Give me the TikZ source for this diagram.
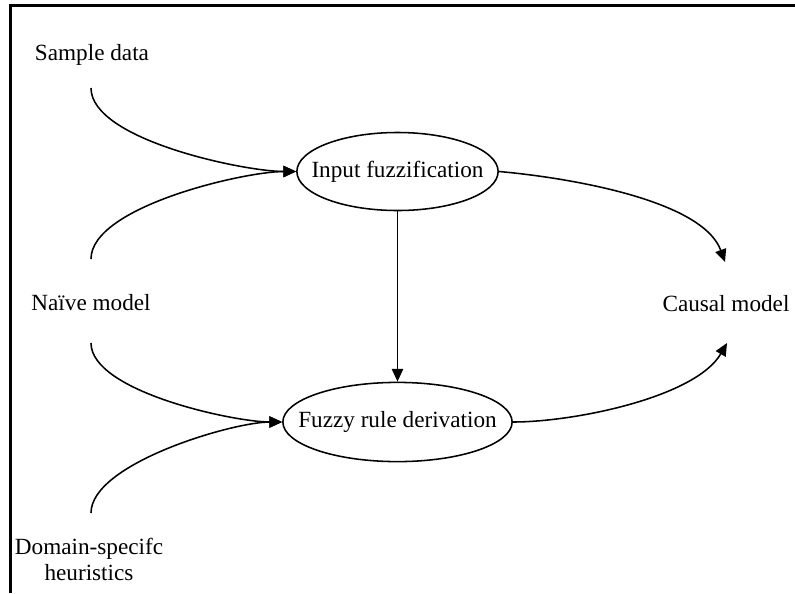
\documentclass[tikz,border=0pt]{standalone}
\usepackage{fontspec}
\setmainfont{Liberation Serif}
\usetikzlibrary{shapes.geometric,arrows.meta}

\begin{document}
\begin{tikzpicture}[x=0.025cm,y=0.025cm,
    every node/.style={font=\fontsize{16.5pt}{18.5pt}\selectfont},
    proc/.style={draw,ellipse,line width=1.1pt,inner sep=0pt},
    flow/.style={line width=1.1pt,-{Triangle[length=9pt,width=8pt]}}]
\useasboundingbox (0,0) rectangle (795,-593);
\draw [line width=2.3pt] (795,-5.7) -- (10.7,-5.7) -- (10.7,-593);
\node [proc,minimum width=5.03cm,minimum height=1.95cm] (fuzz) at (397.5,-171.5) {\makebox[0pt]{Input fuzzification}};
\node [proc,minimum width=5.73cm,minimum height=1.98cm] (rules) at (397.5,-422) {\makebox[0pt]{Fuzzy rule derivation}};
\node [anchor=base] (sample) at (92,-60) {Sample data};
\node [anchor=base] (naive) at (91,-310) {Naïve model};
\node [anchor=base] (causal) at (726,-311) {Causal model};
\node [align=center] (domain) at (89,-559.5) {Domain-specifc\\heuristics};
\coordinate (sample-out) at (91,-88);
\coordinate (naive-up) at (91,-259);
\coordinate (naive-down) at (91,-343);
\coordinate (domain-up) at (91,-513);
\coordinate (causal-top) at (725,-262);
\coordinate (causal-bot) at (727,-343);
\draw [flow] (sample-out) to [out=-90,in=180,looseness=0.6] (fuzz.west);
\draw [flow] (naive-up) to [out=90,in=180,looseness=0.6] (fuzz.west);
\draw [flow] (naive-down) to [out=-90,in=180,looseness=0.6] (rules.west);
\draw [flow] (domain-up) to [out=90,in=180,looseness=0.6] (rules.west);
\draw [flow] (fuzz) -- (rules);
\draw [flow] (fuzz.east) to [out=-5,in=110,looseness=0.7] (causal-top);
\draw [flow] (rules.east) to [out=0,in=-120,looseness=0.7] (causal-bot);
\end{tikzpicture}
\end{document}
